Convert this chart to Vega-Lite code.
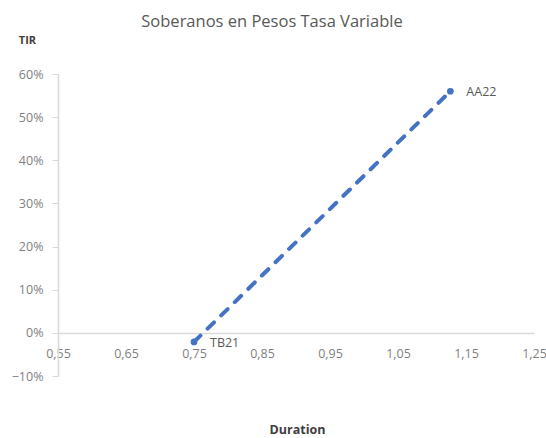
{
  "$schema": "https://vega.github.io/schema/vega-lite/v6.json",
  "autosize": {"type": "none"},
  "padding": {"left": 58, "top": 74, "right": 12, "bottom": 62},
  "width": 476,
  "height": 302,
  "background": "white",
  "config": {"view": {"stroke": null}, "font": "Open Sans"},
  "title": {
    "text": "Soberanos en Pesos Tasa Variable",
    "fontSize": 16.5,
    "fontWeight": "normal",
    "color": "#595959",
    "anchor": "middle",
    "frame": "group",
    "dx": -24,
    "offset": 4
  },
  "data": {
    "values": [
      {"bono": "TB21", "duration": 0.75, "tir": -0.021},
      {"bono": "AA22", "duration": 1.127, "tir": 0.56}
    ]
  },
  "encoding": {
    "x": {
      "field": "duration",
      "type": "quantitative",
      "scale": {"domain": [0.55, 1.25], "nice": false, "zero": false},
      "axis": {
        "title": "Duration",
        "values": [0.55, 0.65, 0.75, 0.85, 0.95, 1.05, 1.15, 1.25],
        "format": ".2f",
        "labelExpr": "replace(datum.label, '.', ',')",
        "offset": -43,
        "ticks": false,
        "grid": false,
        "domainColor": "#d9d9d9",
        "domainWidth": 1.5,
        "labelColor": "#7f7f7f",
        "labelFontSize": 12.5,
        "labelPadding": 14,
        "labelFlush": false,
        "titleColor": "#404040",
        "titleFontSize": 12.5,
        "titleFontWeight": "bold",
        "titleY": 96,
        "titleBaseline": "middle",
        "titleX": 239
      }
    },
    "y": {
      "field": "tir",
      "type": "quantitative",
      "scale": {"domain": [-0.1, 0.6], "nice": false},
      "axis": {
        "title": "TIR",
        "values": [-0.1, 0, 0.1, 0.2, 0.3, 0.4, 0.5, 0.6],
        "format": ".0%",
        "grid": false,
        "domainColor": "#d9d9d9",
        "domainWidth": 1.5,
        "tickColor": "#d9d9d9",
        "tickSize": 6,
        "labelColor": "#7f7f7f",
        "labelFontSize": 12.5,
        "labelPadding": 9,
        "titleColor": "#404040",
        "titleFontSize": 11,
        "titleFontWeight": "bold",
        "titleAngle": 0,
        "titleX": -31,
        "titleY": -34,
        "titleAlign": "center",
        "titleBaseline": "middle"
      }
    }
  },
  "layer": [
    {
      "mark": {"type": "line", "color": "#4472C4", "strokeWidth": 4, "strokeDash": [9, 10], "strokeCap": "round"}
    },
    {
      "mark": {"type": "point", "filled": true, "color": "#4472C4", "size": 45, "opacity": 1}
    },
    {
      "mark": {"type": "text", "align": "left", "baseline": "middle", "dx": 16, "dy": 1, "fontSize": 12.5, "color": "#595959"},
      "encoding": {"text": {"field": "bono"}}
    }
  ]
}
